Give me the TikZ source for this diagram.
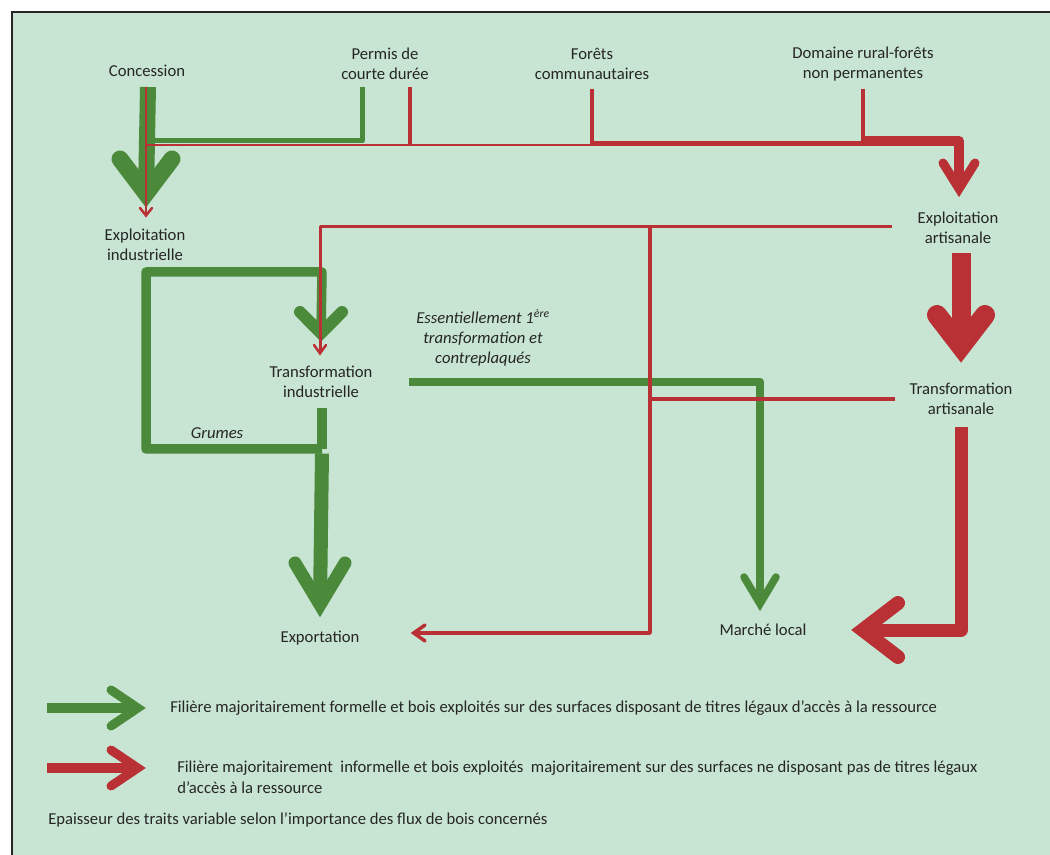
\documentclass[tikz,border=0pt]{standalone}
\usepackage{fontspec}
\setmainfont{Carlito}
\usetikzlibrary{calc}
\definecolor{bg}{HTML}{C8E4D2}
\definecolor{gr}{HTML}{4A8A3A}
\definecolor{rd}{HTML}{B93035}
\definecolor{txt}{HTML}{262626}
% chevron arrow head: #1 colour, #2 tip coordinate, #3 dx, #4 dy (pointing direction), #5 length, #6 half spread, #7 stroke width (px)
\newcommand\chev[7]{%
  \pgfmathsetmacro\chd{((#7)/2)*sqrt((#5)^2+(#6)^2)/(#6)}%
  \coordinate (#2v) at ($(#2)+({-(#3)*\chd},{-(#4)*\chd})$);
  \draw[#1, line width=#7*0.75pt, line cap=round, line join=miter, miter limit=20]
    ($(#2)+({-(#3)*(#5)-(#4)*(#6)},{-(#4)*(#5)+(#3)*(#6)})$) -- (#2v) --
    ($(#2)+({-(#3)*(#5)+(#4)*(#6)},{-(#4)*(#5)-(#3)*(#6)})$);
}
\begin{document}
\begin{tikzpicture}[x=0.75pt,y=-0.75pt,
  lbl/.style={inner sep=0pt, align=center, text=txt, font=\fontsize{12.5}{15}\selectfont},
  ilbl/.style={lbl, font=\fontsize{12.5}{15}\selectfont\itshape},
  leg/.style={inner sep=0pt, anchor=west, text=txt, font=\fontsize{12.5}{15}\selectfont},
  gline/.style={draw=gr, line width=#1*0.75pt, line join=round},
  rline/.style={draw=rd, line width=#1*0.75pt, line join=round}]
\useasboundingbox (0,0) rectangle (1050,855);
\fill[white] (0,0) rectangle (1050,855);
\fill[bg] (12,12) rectangle (1050,855);
\draw[black!85, line width=1pt] (12,855) -- (12,12) -- (1050,12);

% ---------- text nodes
\node[lbl] (conc) at (147,71) {Concession};
\node[lbl] (permis) at (385,64) {Permis de\\courte durée};
\node[lbl] (forets) at (592,64) {Forêts\\communautaires};
\node[lbl] (domaine) at (863,64) {Domaine rural-forêts\\non permanentes};
\node[lbl] (expind) at (145,245) {Exploitation\\industrielle};
\node[lbl] (expart) at (958,228) {Exploitation\\artisanale};
\node[lbl] (trind) at (321,382) {Transformation\\industrielle};
\node[lbl] (trart) at (961,399) {Transformation\\artisanale};
\node[lbl] (expo) at (320,638) {Exportation};
\node[lbl] (marche) at (763,630) {Marché local};
\node[ilbl] (ess) at (483,338) {Essentiellement 1\textsuperscript{ère}\\transformation et\\contreplaqués};
\node[ilbl] (grumes) at (217,433) {Grumes};

% ---------- coordinates
\coordinate (gC0) at (148,87);   \coordinate (gCtip) at (146,213);
\coordinate (gP0) at (362,87);   \coordinate (gP1) at (362,141);  \coordinate (gP2) at (150,141);
\coordinate (rC0) at (146,87);   \coordinate (rCtip) at (146,218); \coordinate (rC1) at (146,145);
\coordinate (rP0) at (410,87);   \coordinate (rP1) at (410,145);
\coordinate (rF0) at (592,89);   \coordinate (rF1) at (592,145);
\coordinate (rF2) at (592,143.5);
\coordinate (rD0) at (863,89);   \coordinate (rD1) at (863,143.5);
\coordinate (rD2) at (863,141);  \coordinate (rA1) at (959,141);  \coordinate (rAtip) at (959,200);
\coordinate (rE0) at (892,227);  \coordinate (rE1) at (320,227);  \coordinate (rEtip) at (320,356);
\coordinate (rV0) at (650,227);  \coordinate (rV1) at (650,633);  \coordinate (rXtip) at (410,633);
\coordinate (rT0) at (895,399);  \coordinate (rT1) at (650,399);
\coordinate (rK0) at (961,253);  \coordinate (rKtip) at (961,372);
\coordinate (rM0) at (961,427);  \coordinate (rM1) at (961,630); \coordinate (rMtip) at (848,630);
\coordinate (gL0) at (322,272);  \coordinate (gL1) at (146,272); \coordinate (gL2) at (146,449);
\coordinate (gL3) at (322,449);  \coordinate (gTtip) at (321,344);
\coordinate (gD0) at (322,408);  \coordinate (gXtip) at (320,621);
\coordinate (gR0) at (409,382);  \coordinate (gR1) at (760,382); \coordinate (gRtip) at (760,613);
\coordinate (lg0) at (47,708);   \coordinate (lgtip) at (148,708);
\coordinate (lr0) at (47,768);   \coordinate (lrtip) at (148,768);

% ---------- green flows
\chev{gr}{gCtip}{0}{1}{54}{26}{17}
\draw[gline=16] (gC0) -- (gCtipv);
\draw[gline=5] (gP0) -- (gP1) -- (gP2);
\chev{gr}{gTtip}{0}{1}{32}{21}{12}
\draw[gline=9.5] (gTtipv) -- (gL0) -- (gL1) -- (gL2) -- (gL3);
\draw[gline=10] (gD0) -- (gL3);
\chev{gr}{gXtip}{0}{1}{58}{25}{13}
\draw[gline=14] ([yshift=-4.5*0.75pt]gL3) -- (gXtipv);
\chev{gr}{gRtip}{0}{1}{36}{16}{7.5}
\draw[gline=8.5] (gR0) -- (gR1) -- (gRtipv);

% ---------- red flows
\chev{rd}{rCtip}{0}{1}{10}{6}{2.5}
\draw[rline=2.5] (rC0) -- (rCtipv);
\draw[rline=2.5] (rC1) -- (rF1);
\draw[rline=4] (rP0) -- (rP1);
\draw[rline=4] (rF0) -- (rF1);
\draw[rline=5] (rF2) -- (rD1);
\draw[rline=4] (rD0) -- (rD1);
\chev{rd}{rAtip}{0}{1}{37}{16}{9}
\draw[rline=10] (rD2) -- (rA1) -- (rAtipv);
\chev{rd}{rEtip}{0}{1}{11}{6}{2.5}
\draw[rline=3] (rE0) -- (rE1) -- (rEtipv);
\chev{rd}{rXtip}{-1}{0}{15}{8}{3.5}
\draw[rline=3.5] (rV0) -- (rV1) -- (rXtipv);
\draw[rline=3.5] (rT0) -- (rT1);
\chev{rd}{rKtip}{0}{1}{57}{24}{20}
\draw[rline=19] (rK0) -- (rKtipv);
\chev{rd}{rMtip}{-1}{0}{50}{27}{14}
\draw[rline=13] (rM0) -- (rM1) -- (rMtipv);

% ---------- legend
\chev{gr}{lgtip}{1}{0}{37}{18}{9}
\draw[gline=10] (lg0) -- (lgtipv);
\chev{rd}{lrtip}{1}{0}{37}{18}{9}
\draw[rline=10] (lr0) -- (lrtipv);
\node[leg] (leg1) at (170,708) {Filière majoritairement formelle et bois exploités sur des surfaces disposant de titres légaux d’accès à la ressource};
\node[leg] (leg2) at (177,768) {Filière majoritairement\ \ informelle et bois exploités\ \ majoritairement sur des surfaces ne disposant pas de titres légaux};
\node[leg] (leg3) at (177,788) {d’accès à la ressource};
\node[leg] (leg4) at (48,820) {Epaisseur des traits variable selon l’importance des flux de bois concernés};
\end{tikzpicture}
\end{document}
